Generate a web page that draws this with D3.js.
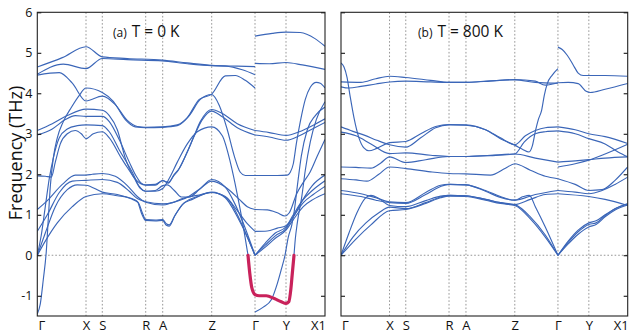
<!DOCTYPE html>
<html>
<head>
<meta charset="utf-8">
<script src="https://cdn.jsdelivr.net/npm/d3@7"></script>
<style>
  body { margin: 0; background: #fff; }
  svg { display: block; font-family: "Open Sans", sans-serif; }
</style>
</head>
<body>
<div id="chart"></div>
<script>
// high-symmetry path (same for both panels), distance along path in arbitrary units
const kLabels = ["Γ", "X", "S", "R", "A", "Z", "Γ", "Y", "X1"];
const kTicks = [0, 48.7, 65, 108.4, 125.4, 174.4, 217.7, 248.7, 287.7];
const freqTicks = [-1, 0, 1, 2, 3, 4, 5, 6];

// T = 0 K dispersion, each band as [k, THz]
const bands0K = [
  [[0,4.65],[25,4.88],[48.7,5.15],[65,4.9],[90,4.86],[125,4.82],[150,4.75],[174.4,4.69],[200,4.67],[217.7,4.66]],
  [[0,4.47],[26,4.72],[48.7,4.61],[65,4.86],[90,4.83],[125,4.8],[150,4.73],[174.4,4.68],[188,4.67],[205,4.58],[217.7,4.46]],
  [[0,4.45],[22,4.51],[35,4.25],[48.7,3.81],[65,3.93],[78,3.72],[90,3.33],[100,3.18],[108.4,3.16],[125.4,3.17],[140,3.22],[150,3.4],[162,3.85],[174.4,3.98],[188,4.43],[198,4.44],[208,4.32],[217.7,4.13]],
  [[0,-1.45],[3,-1.2],[6,-0.6],[9,0.1],[11,0.9],[13,1.7],[16,2.4],[20,2.9],[26,3.3],[34,3.65],[42,3.95],[48.7,4.13],[65,4.02],[76,3.8],[88,3.35],[98,3.17],[108.4,3.15],[125.4,3.16],[140,3.2],[152,3.45],[163,3.85],[174.4,3.97],[182,3.7],[190,3.1],[197,2.45],[203,2.05],[208,1.97],[217.7,1.97]],
  [[0,3.08],[15,3.25],[30,3.45],[48.7,3.61],[65,3.58],[72,3.45],[80,3.1],[88,2.4],[96,1.95],[103,1.77],[108.4,1.73],[118,1.73],[125.4,1.85],[131,1.78],[136,1.95],[141,2.1],[149,2.5],[156,2.9],[163,3.3],[174.4,3.6],[185,3.5],[200,3.25],[217.7,3.08]],
  [[0,2.97],[15,3.12],[28,3.35],[38,3.45],[48.7,3.43],[65,3.43],[72,3.3],[82,2.85],[92,2.3],[99,1.95],[104,1.78],[108.4,1.74],[118,1.75],[125.4,1.84],[131,1.8],[137,2.0],[142,2.15],[150,2.55],[157,2.95],[165,3.35],[174.4,3.56],[185,3.42],[200,3.15],[217.7,2.97]],
  [[0,0],[4,0.5],[8,1.2],[12,1.9],[16,2.4],[22,2.9],[30,3.12],[40,3.2],[48.7,3.22],[65,3.2],[72,3.05],[82,2.6],[95,2.05],[102,1.7],[108.4,1.58],[118,1.6],[125.4,1.72],[130,1.74],[137,1.6],[144,1.44],[152,1.44],[162,1.62],[174.4,1.87],[188,1.68],[197,1.3],[205,0.85],[217.7,0]],
  [[0,1.96],[8,1.95],[14,1.93],[18,2.3],[23,2.75],[30,3.0],[38,3.08],[44,3.0],[48.7,2.88],[56,3.0],[65,3.05],[72,2.9],[84,2.4],[97,1.9],[103,1.65],[108.4,1.58],[118,1.58],[125.4,1.65],[132,1.9],[140,2.3],[150,2.75],[160,3.05],[174.4,3.17],[185,2.95],[193,2.3],[200,1.5],[205,0.85],[210.7,0]],
  [[0,0],[8,0.35],[20,0.8],[35,1.2],[48.7,1.45],[65,1.52],[80,1.47],[92,1.42],[100,1.33],[104,1.05],[108.4,0.86],[118,0.85],[125.4,0.86],[129,0.74],[132,0.72],[137,0.95],[145,1.25],[155,1.38],[174.4,1.55],[188,1.45],[200,1.1],[210,0.78],[217.7,0.59]],
  [[0,0],[8,0.55],[18,1.2],[30,1.62],[40,1.74],[48.7,1.73],[65,1.56],[80,1.5],[93,1.4],[101,1.3],[105,1.05],[108.4,0.88],[118,0.87],[125.4,0.88],[129,0.78],[132,0.75],[138,1.0],[147,1.3],[160,1.45],[174.4,1.56],[188,1.42],[200,0.95],[210,0.45],[217.7,0]],
  [[0,0.59],[10,1.0],[22,1.55],[35,1.83],[48.7,1.85],[65,1.87],[80,1.8],[92,1.58],[100,1.4],[108.4,1.32],[125.4,1.27],[135,1.3],[145,1.4],[160,1.48],[174.4,1.55],[190,1.4],[202,0.9],[210,0.45],[217.7,0]],
  [[0,1.13],[10,1.35],[25,1.75],[38,1.98],[48.7,1.98],[55,2.0],[65,2.02],[78,1.95],[90,1.72],[100,1.45],[108.4,1.31],[125.4,1.24],[135,1.3],[150,1.43],[163,1.65],[174.4,1.83],[190,1.65],[202,1.38],[210,1.2],[217.7,1.13]],
  // Γ - Y - X1
  [[217.7,5.41],[235,5.48],[248.7,5.51],[263,5.5],[277.7,5.35],[287.7,5.16]],
  [[217.7,4.74],[232,4.73],[248.7,4.76],[265,4.7],[287.7,4.59]],
  [[217.7,3.08],[232,3.03],[248.7,2.96],[262,3.05],[275,3.2],[287.7,3.37]],
  [[217.7,2.97],[232,2.92],[248.7,2.84],[262,2.95],[275,3.12],[287.7,3.28]],
  [[217.7,1.97],[240,1.97],[250,1.98],[253,2.05],[256,2.26],[259,2.75],[263,3.3],[268,3.85],[273,4.15],[279,4.27],[283,4.25],[287.7,4.13]],
  [[256.7,0],[258,0.4],[260,0.8],[264.5,1.45],[268,2.1],[273,2.8],[279,3.35],[287.7,3.79]],
  [[217.7,-1.4],[226,-1.28],[234,-1.1],[240,-0.7],[244,-0.35],[247.7,0],[251,0.45],[254.4,0.74],[257,1.1],[260,1.7],[264,2.45],[270,3.1],[278,3.45],[287.7,3.66]],
  [[217.7,1.13],[230,1.12],[240,1.05],[247.7,0.97],[252,1.05],[259.4,1.52],[266,1.8],[272.7,2.05],[280,2.45],[287.7,2.86]],
  [[217.7,0.59],[230,0.6],[240,0.67],[248.7,0.73],[256,0.95],[265,1.35],[275,1.72],[287.7,1.98]],
  [[217.7,0],[228,0.3],[238,0.55],[248.7,0.7],[256,1.0],[265,1.35],[275,1.6],[287.7,1.84]],
  [[217.7,0],[228,0.25],[238,0.48],[248.7,0.66],[256,0.95],[266,1.3],[276,1.5],[287.7,1.7]],
  [[217.7,0],[228,0.2],[238,0.42],[248.7,0.62],[256,0.88],[266,1.2],[276,1.38],[287.7,1.52]]
];

// the imaginary (unstable) mode at 0 K, highlighted
const unstable0K = [[210.7,0],[212.5,-0.45],[214.5,-0.8],[217.7,-0.97],[222,-1.0],[229,-1.0],[237,-1.07],[244,-1.15],[248.7,-1.19],[251.5,-1.15],[253.5,-0.85],[255,-0.45],[256.7,0]];

// T = 800 K dispersion
const bands800K = [
  [[0,4.28],[20,4.27],[35,4.36],[48.7,4.42],[65,4.39],[90,4.32],[108.4,4.27],[125.4,4.27],[150,4.3],[174.4,4.34],[195,4.3],[205,4.2],[217.7,4.26]],
  [[0,4.16],[8,4.13],[20,4.17],[35,4.23],[48.7,4.28],[65,4.3],[90,4.28],[108.4,4.27],[125.4,4.27],[150,4.31],[174.4,4.33],[195,4.27],[217.7,4.25]],
  [[0,4.75],[3,4.65],[6,4.4],[9,3.95],[13,3.4],[18,2.9],[23,2.65],[28,2.58],[36,2.64],[48.7,2.78],[65,2.81],[80,3.0],[95,3.18],[108.4,3.23],[125.4,3.22],[145,3.1],[160,2.88],[174.4,2.72],[182,2.62],[188.7,2.55],[192,2.7],[195.3,3.09],[198,3.35],[201.3,3.58],[204,3.95],[207,4.24],[212,4.45],[217.7,4.61]],
  [[0,3.17],[12,3.06],[24,2.96],[36,2.84],[48.7,2.73],[65,2.67],[80,2.9],[95,3.15],[108.4,3.22],[125.4,3.21],[145,3.1],[160,2.9],[174.4,2.73],[185,2.95],[195,3.08],[205,3.15],[217.7,3.17]],
  [[0,3.04],[15,2.95],[30,2.75],[48.7,2.51],[65,2.53],[90,2.47],[108.4,2.44],[125.4,2.44],[150,2.46],[174.4,2.5],[184,2.8],[195,3.0],[205,3.05],[217.7,3.07]],
  [[0,2.18],[15,2.17],[30,2.15],[40,2.28],[48.7,2.43],[65,2.29],[85,2.36],[108.4,2.44],[125.4,2.44],[150,2.47],[174.4,2.5],[195,2.4],[217.7,2.3]],
  [[0,1.89],[15,1.86],[26,1.83],[38,2.0],[48.7,2.18],[65,2.14],[90,2.06],[108.4,2.02],[125.4,2.01],[150,1.98],[165,2.15],[174.4,2.26],[190,2.1],[205,1.95],[217.7,1.89]],
  [[0,1.6],[20,1.52],[35,1.42],[48.7,1.32],[65,1.3],[85,1.55],[100,1.73],[108.4,1.75],[125.4,1.74],[145,1.6],[160,1.45],[174.4,1.36],[195,1.5],[217.7,1.6]],
  [[0,1.52],[20,1.45],[35,1.36],[48.7,1.3],[65,1.28],[85,1.5],[100,1.7],[108.4,1.75],[125.4,1.74],[145,1.58],[160,1.43],[174.4,1.36],[183,1.45],[189,1.48],[195,1.2],[205,0.7],[217.7,0]],
  [[0,0],[8,0.55],[16,1.05],[24,1.4],[30,1.48],[38,1.4],[48.7,1.23],[65,1.2],[85,1.35],[100,1.46],[108.4,1.48],[125.4,1.47],[145,1.38],[160,1.3],[174.4,1.25],[190,1.38],[205,1.5],[217.7,1.52]],
  [[0,0],[12,0.45],[25,0.8],[38,1.05],[48.7,1.19],[65,1.15],[85,1.3],[100,1.44],[108.4,1.48],[125.4,1.47],[145,1.38],[160,1.3],[174.4,1.25],[190,0.95],[205,0.5],[217.7,0]],
  [[0,0],[15,0.4],[30,0.75],[48.7,1.1],[65,1.13],[85,1.28],[100,1.42],[108.4,1.46],[125.4,1.45],[145,1.36],[160,1.28],[174.4,1.23],[190,0.9],[205,0.45],[217.7,0]],
  // Γ - Y - X1
  [[217.7,5.14],[222,5.08],[227,4.94],[233,4.7],[238,4.5],[243,4.44],[265,4.44],[287.7,4.42]],
  [[217.7,4.26],[228,4.27],[238,4.24],[246,4.05],[250,4.02],[265,4.1],[287.7,4.24]],
  [[217.7,3.17],[235,3.1],[248.7,3.0],[265,2.93],[287.7,2.76]],
  [[217.7,3.07],[235,3.0],[248.7,2.88],[265,2.75],[278,2.55],[287.7,2.43]],
  [[217.7,2.3],[235,2.33],[248.7,2.36],[265,2.4],[287.7,2.43]],
  [[217.7,2.18],[235,2.26],[248.7,2.35],[265,2.5],[287.7,2.74]],
  [[217.7,1.89],[235,1.75],[248.7,1.6],[262,1.62],[275,1.85],[287.7,2.18]],
  [[217.7,1.6],[235,1.56],[248.7,1.52],[262,1.6],[275,1.75],[287.7,1.93]],
  [[217.7,1.52],[248.7,1.45],[265,1.38],[287.7,1.23]],
  [[217.7,0],[228,0.35],[238,0.62],[248.7,0.8],[256,0.85],[265,1.0],[275,1.15],[287.7,1.28]],
  [[217.7,0],[228,0.32],[238,0.58],[248.7,0.76],[256,0.8],[265,0.98],[275,1.15],[287.7,1.26]],
  [[217.7,0],[228,0.28],[238,0.52],[248.7,0.7],[256,0.76],[265,0.95],[275,1.12],[287.7,1.24]]
];

const width = 631, height = 335;
const plotTop = 12.3, plotBottom = 316;
const blue = "#3b66b8", red = "#c9225b";

const svg = d3.select("#chart").append("svg")
    .attr("width", width)
    .attr("height", height)
    .attr("viewBox", [0, 0, width, height]);

const y = d3.scaleLinear([-1.5, 6], [plotBottom, plotTop]);

const panels = [
  {left: 37.3, right: 325, bands: bands0K, unstable: unstable0K, tag: "(a)", title: "T = 0 K", tx: 113, labels: true},
  {left: 341, right: 627.7, bands: bands800K, unstable: null, tag: "(b)", title: "T = 800 K", tx: 418, labels: false}
];

panels.forEach((p, i) => {
  const x = d3.scaleLinear([0, kTicks[kTicks.length - 1]], [p.left, p.right]);
  const g = svg.append("g");

  g.append("clipPath").attr("id", "clip" + i)
    .append("rect")
      .attr("x", p.left).attr("y", plotTop)
      .attr("width", p.right - p.left).attr("height", plotBottom - plotTop);

  // dotted guides
  g.append("g")
    .selectAll("line")
    .data(kTicks.slice(1, -1))
    .join("line")
      .attr("x1", d => x(d)).attr("x2", d => x(d))
      .attr("y1", plotTop).attr("y2", plotBottom)
      .attr("stroke", "#8a8a8a")
      .attr("stroke-width", 0.9)
      .attr("stroke-dasharray", "1.6,2");

  g.append("line")
      .attr("x1", p.left).attr("x2", p.right)
      .attr("y1", y(0)).attr("y2", y(0))
      .attr("stroke", "#8a8a8a")
      .attr("stroke-width", 0.9)
      .attr("stroke-dasharray", "1.6,2");

  const line = d3.line()
      .x(d => x(d[0]))
      .y(d => y(d[1]))
      .curve(d3.curveMonotoneX);

  const plot = g.append("g").attr("clip-path", `url(#clip${i})`);

  plot.selectAll("path.band")
    .data(p.bands)
    .join("path")
      .attr("class", "band")
      .attr("d", line)
      .attr("fill", "none")
      .attr("stroke", blue)
      .attr("stroke-width", 1.15);

  if (p.unstable) plot.append("path")
      .attr("d", line(p.unstable))
      .attr("fill", "none")
      .attr("stroke", red)
      .attr("stroke-width", 3.2)
      .attr("stroke-linecap", "round");

  // y ticks on both sides, pointing inward
  const yl = g.append("g")
      .attr("transform", `translate(${p.left},0)`)
      .call(d3.axisLeft(y).tickValues(freqTicks).tickSize(-4).tickPadding(5).tickFormat(d => String(d)))
      .call(a => a.select(".domain").remove());
  yl.selectAll("text").attr("font-size", 12.5).attr("fill", "#111")
      .style("font-family", "'Open Sans', sans-serif");
  if (!p.labels) yl.selectAll("text").remove();

  g.append("g")
      .attr("transform", `translate(${p.right},0)`)
      .call(d3.axisRight(y).tickValues(freqTicks).tickSize(-4).tickFormat(""))
      .call(a => a.select(".domain").remove());

  // path labels
  const xa = g.append("g")
      .attr("transform", `translate(0,${plotBottom})`)
      .call(d3.axisBottom(x).tickValues(kTicks).tickSize(0).tickPadding(5).tickFormat((d, j) => kLabels[j]))
      .call(a => a.select(".domain").remove());
  xa.selectAll("text")
      .attr("font-size", 13)
      .attr("fill", "#111")
      .style("font-family", "'Open Sans', sans-serif")
      .attr("dx", (d, j) => j === 0 ? 4 : (j === kTicks.length - 1 ? -7 : 0));

  // frame
  g.append("rect")
      .attr("x", p.left).attr("y", plotTop)
      .attr("width", p.right - p.left).attr("height", plotBottom - plotTop)
      .attr("fill", "none")
      .attr("stroke", "#222")
      .attr("stroke-width", 1.1);

  const t = g.append("text")
      .attr("x", p.tx).attr("y", 36.5)
      .attr("fill", "#111");
  t.append("tspan").attr("font-size", 12).text(p.tag);
  t.append("tspan").attr("font-size", 15.5).attr("dx", 5).text(p.title);
});

svg.append("text")
    .attr("transform", "translate(22,153) rotate(-90)")
    .attr("text-anchor", "middle")
    .attr("font-size", 18)
    .attr("fill", "#111")
    .text("Frequency (THz)");
</script>
</body>
</html>
